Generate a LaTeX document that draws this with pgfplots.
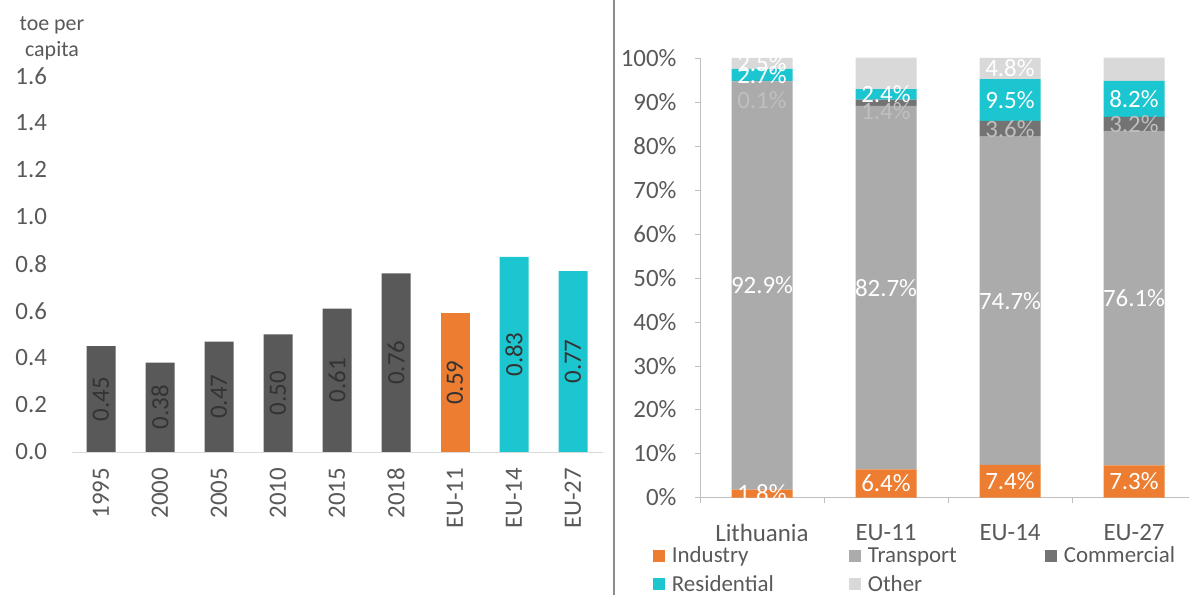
\documentclass[border=0pt]{standalone}
\usepackage{fontspec}
\setmainfont{Carlito}
\usepackage{pgfplots}
\usepackage{pgfplotstable}
\pgfplotsset{compat=1.18}

\definecolor{dgray}{HTML}{595959}
\definecolor{xlorange}{HTML}{ED7D31}
\definecolor{xlteal}{HTML}{1CC6D0}
\definecolor{trgray}{HTML}{ABABAB}
\definecolor{cmgray}{HTML}{737373}
\definecolor{otgray}{HTML}{D9D9D9}
\definecolor{txt}{HTML}{595959}
\definecolor{axgray}{HTML}{BFBFBF}

% left: toe per capita
\pgfplotstableread{
idx val
0 0.45
1 0.38
2 0.47
3 0.50
4 0.61
5 0.76
}\lityears
\pgfplotstableread{
idx val
6 0.59
}\eueleven
\pgfplotstableread{
idx val
7 0.83
8 0.77
}\eurest

% right: shares by sector (%); cmshift = nudge of the commercial label (bp)
\pgfplotstableread{
idx Industry Transport Commercial Residential Other cmshift
0 1.8 92.9 0.1 2.7 2.5 -19
1 6.4 82.7 1.4 2.4 7.2 -8
2 7.4 74.7 3.6 9.5 4.8 0
3 7.3 76.1 3.2 8.2 5.3 0
}\shares

\newcommand\bigfont{\fontsize{25}{30}\selectfont}
\newcommand\legfont{\fontsize{23}{27}\selectfont}

\pgfplotsset{
  /pgf/number format/assume math mode=true,
  sharebars/.style={
    ybar stacked, bar width=61bp,
    scale only axis, width=496bp, height=439.5bp,
    xmin=-0.5, xmax=3.5, ymin=0, ymax=100,
    anchor=south west, at={(700bp,97.5bp)},
  },
  sqleg/.style={legend image code/.code={\fill[##1] (0bp,-6bp) rectangle (12bp,6bp); \path (17bp,0bp);}},
}

\begin{document}
\begin{tikzpicture}
\path[use as bounding box] (0,0) rectangle (1189bp,595bp);

\begin{axis}[
  ybar, bar width=29bp, bar shift=0pt,
  scale only axis, width=531bp, height=376bp,
  anchor=south west, at={(71.5bp,143bp)},
  xmin=-0.5, xmax=8.5, ymin=0, ymax=1.6,
  axis x line*=bottom, axis y line*=left,
  x axis line style={otgray},
  y axis line style={draw=none},
  xtick={0,...,8},
  xticklabels={1995,2000,2005,2010,2015,2018,EU-11,EU-14,EU-27},
  ytick={0,0.2,0.4,0.6,0.8,1.0,1.2,1.4,1.6},
  tick style={draw=none},
  yticklabel style={/pgf/number format/fixed, /pgf/number format/fixed zerofill,
    /pgf/number format/precision=1, font=\bigfont, text=txt, xshift=-21bp},
  xticklabel style={yshift=-8bp, rotate=90, anchor=east, font=\bigfont, text=txt},
  nodes near coords={\pgfmathprintnumber[fixed,fixed zerofill,precision=2]{\pgfplotspointmeta}},
  visualization depends on=rawy \as \rawy,
  every node near coord/.append style={shift={(axis direction cs:0,-\rawy/2)},
    rotate=90, anchor=center, font=\bigfont, text=black!80},
]
\addplot[fill=dgray, draw=none] table[x=idx, y=val]{\lityears};
\addplot[fill=xlorange, draw=none] table[x=idx, y=val]{\eueleven};
\addplot[fill=xlteal, draw=none] table[x=idx, y=val]{\eurest};
\end{axis}

\node[align=center, font=\fontsize{22}{26}\selectfont, text=txt] at (52bp,557bp) {toe per\\capita};

\draw[color=black!45, line width=1.5bp] (614bp,0) -- (614bp,595bp);

% right: stacked shares
\begin{axis}[
  sharebars,
  axis x line*=bottom, axis y line*=left,
  axis line style={axgray},
  xtick={0,1,2,3}, xticklabels={Lithuania,EU-11,EU-14,EU-27},
  major x tick style={draw=none},
  minor xtick={-0.5,0.5,1.5,2.5,3.5},
  minor x tick style={axgray},
  ytick={0,10,...,100},
  yticklabel={\pgfmathprintnumber{\tick}\%},
  ytick style={axgray},
  tick align=outside,
  major tick length=5bp, minor tick length=6bp,
  tick label style={font=\bigfont, text=txt},
  yticklabel style={xshift=-15bp},
  xticklabel style={yshift=-18bp},
  legend columns=3,
  legend style={draw=none, fill=none, font=\legfont, text=txt,
    at={(-0.095,-0.108)}, anchor=north west, inner sep=0pt, outer sep=0pt,
    row sep=7bp, nodes={inner sep=2bp}},
  legend cell align=left,
]
\addplot[fill=xlorange, draw=none, sqleg] table[x=idx, y=Industry]{\shares};
\addlegendentry{\makebox[175bp][l]{Industry}}
\addplot[fill=trgray, draw=none, sqleg] table[x=idx, y=Transport]{\shares};
\addlegendentry{\makebox[175bp][l]{Transport}}
\addplot[fill=cmgray, draw=none, sqleg] table[x=idx, y=Commercial]{\shares};
\addlegendentry{Commercial}
\addplot[fill=xlteal, draw=none, sqleg] table[x=idx, y=Residential]{\shares};
\addlegendentry{\makebox[175bp][l]{Residential}}
\addplot[fill=otgray, draw=none, sqleg] table[x=idx, y=Other]{\shares};
\addlegendentry{\makebox[175bp][l]{Other}}
\end{axis}

% value labels, drawn over all segments (stacked nodes sit mid-segment)
\begin{axis}[sharebars, hide axis,
  nodes near coords={\pgfmathprintnumber[fixed,fixed zerofill,precision=1]{\pgfplotspointmeta}\%},
  point meta=explicit,
  every node near coord/.append style={anchor=center, font=\bigfont, text=white},
]
\addplot[fill=none, draw=none] table[x=idx, y=Industry, meta=Industry]{\shares};
\addplot[fill=none, draw=none] table[x=idx, y=Transport, meta=Transport]{\shares};
\addplot[fill=none, draw=none,
  visualization depends on=\thisrow{cmshift} \as \cmshift,
  every node near coord/.append style={yshift=\cmshift bp, text=white!75!black}]
  table[x=idx, y=Commercial, meta=Commercial]{\shares};
\addplot[fill=none, draw=none] table[x=idx, y=Residential, meta=Residential]{\shares};
\addplot[fill=none, draw=none] table[x=idx, y=Other, meta=Other]{\shares};
\end{axis}
\end{tikzpicture}
\end{document}
